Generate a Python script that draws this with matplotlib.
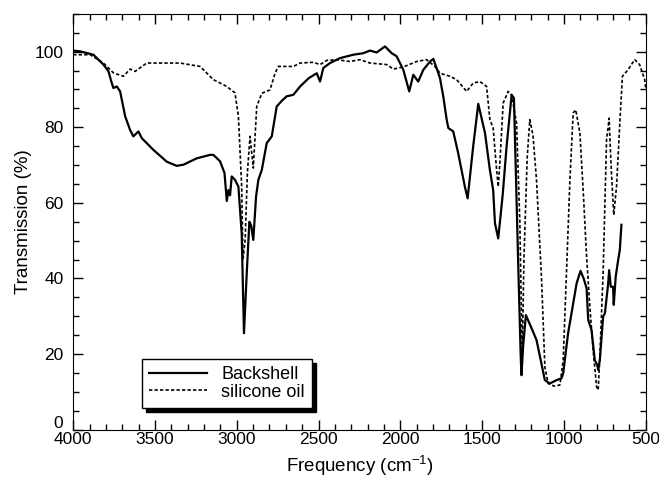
import matplotlib.pyplot as plt
from matplotlib.ticker import MultipleLocator, FuncFormatter

plt.rcParams['font.family'] = ['Liberation Sans', 'DejaVu Sans']

# FTIR transmission spectra, wavenumber (cm-1) vs transmission (%)
backshell_x = [4000, 3957, 3876, 3815, 3784, 3764, 3754, 3733, 3713, 3682,
               3652, 3632, 3601, 3580, 3509, 3428, 3367, 3326, 3244, 3163,
               3143, 3102, 3075, 3061, 3051, 3041, 3031, 3011, 2990, 2970,
               2956, 2939, 2923, 2912, 2899, 2882, 2868, 2847, 2817, 2786,
               2756, 2725, 2695, 2654, 2613, 2560, 2511, 2491, 2471, 2430,
               2369, 2288, 2227, 2186, 2145, 2094, 2053, 2023, 1982, 1946,
               1921, 1891, 1860, 1819, 1799, 1779, 1758, 1738, 1717, 1707,
               1677, 1647, 1606, 1589, 1555, 1524, 1483, 1453, 1433, 1422,
               1402, 1375, 1351, 1320, 1306, 1280, 1265, 1260, 1250, 1233,
               1200, 1168, 1117, 1087, 1050, 1015, 1005, 975, 923, 899,
               880, 862, 852, 832, 812, 797, 791, 781, 761, 750,
               730, 724, 714, 700, 696, 684, 669, 659, 649]
backshell_y = [100.3, 100.1, 99.2, 96.6, 94.8, 91.7, 90.4, 90.8, 89.5, 82.9,
               79.3, 77.6, 78.9, 77.1, 74.0, 70.9, 69.8, 70.1, 71.8, 72.7,
               72.7, 71.0, 67.9, 60.5, 63.4, 62.0, 67.0, 66.1, 64.3, 52.0,
               25.5, 41.4, 55.0, 54.0, 50.2, 61.7, 66.1, 68.7, 75.8, 77.6,
               85.5, 87.0, 88.2, 88.6, 90.8, 93.0, 94.3, 92.1, 95.7, 97.0,
               98.3, 99.2, 99.6, 100.3, 99.8, 101.4, 99.6, 98.8, 95.2, 89.5,
               93.9, 92.1, 95.2, 97.4, 98.1, 95.7, 93.0, 88.2, 82.0, 79.8,
               78.9, 73.2, 64.3, 61.2, 75.0, 86.2, 78.5, 68.7, 63.4, 54.6,
               50.6, 62.0, 74.9, 88.6, 87.7, 44.0, 20.0, 14.4, 22.0, 30.3,
               27.0, 23.7, 13.1, 12.2, 13.0, 13.6, 14.9, 25.5, 38.7, 42.0,
               40.0, 37.4, 29.0, 26.4, 18.4, 17.1, 15.8, 18.4, 29.9, 30.8,
               38.7, 42.2, 37.8, 37.8, 33.0, 40.5, 44.9, 47.5, 54.2]

silicone_x = [4000, 3896, 3815, 3754, 3693, 3652, 3621, 3550, 3346, 3224,
              3143, 3061, 3011, 2990, 2970, 2962, 2949, 2935, 2919, 2899,
              2878, 2847, 2797, 2766, 2746, 2654, 2613, 2532, 2491, 2450,
              2389, 2308, 2247, 2186, 2084, 2043, 1980, 1901, 1840, 1789,
              1758, 1697, 1656, 1595, 1555, 1514, 1473, 1453, 1433, 1412,
              1402, 1390, 1372, 1341, 1320, 1290, 1270, 1260, 1255, 1245,
              1225, 1209, 1190, 1168, 1137, 1117, 1097, 1060, 1025, 1005,
              985, 964, 944, 928, 903, 883, 862, 842, 822, 801,
              791, 781, 761, 740, 724, 720, 710, 696, 679, 659,
              643, 609, 568, 538, 507, 500]
silicone_y = [99.2, 99.2, 97.0, 94.4, 93.5, 95.4, 94.8, 97.0, 97.0, 96.1,
              92.6, 90.8, 89.1, 82.9, 64.3, 45.0, 50.0, 68.0, 77.6, 69.2,
              85.5, 89.0, 89.9, 94.3, 96.1, 96.1, 97.0, 97.2, 96.6, 97.7,
              97.9, 97.4, 97.9, 97.0, 96.6, 95.4, 96.0, 97.4, 97.9, 96.1,
              94.3, 93.5, 92.6, 89.5, 91.7, 92.1, 90.8, 82.0, 79.8, 68.7,
              64.3, 72.0, 86.4, 89.5, 88.5, 81.0, 55.0, 30.0, 20.0, 45.0,
              72.0, 82.0, 78.0, 66.0, 39.6, 16.6, 12.2, 11.5, 11.8, 18.4,
              41.4, 66.0, 83.8, 84.6, 78.5, 63.4, 45.8, 32.5, 21.0, 11.3,
              10.5, 19.3, 41.4, 76.7, 82.4, 77.6, 67.9, 56.8, 64.3, 81.1,
              93.5, 95.2, 97.9, 96.6, 92.6, 90.0]

fig = plt.figure(figsize=(6.59, 4.8), dpi=100)
ax = fig.add_axes([0.111, 0.105, 0.869, 0.866])

ax.plot(backshell_x, backshell_y, color='black', lw=1.6, label='Backshell')
ax.plot(silicone_x, silicone_y, color='black', lw=1.2,
        linestyle=(0, (2, 1.3)), label='silicone oil')

ax.set_xlim(4000, 500)
ax.set_ylim(0, 110)
ax.xaxis.set_major_locator(MultipleLocator(500))
ax.xaxis.set_minor_locator(MultipleLocator(100))
ax.yaxis.set_major_locator(MultipleLocator(20))
ax.yaxis.set_minor_locator(MultipleLocator(5))
# the "0" is written separately below so it clears "4000"
ax.yaxis.set_major_formatter(FuncFormatter(lambda v, pos: '' if v == 0 else f'{v:g}'))
ax.tick_params(which='both', direction='in', top=True, right=True,
               labelsize=12.5, width=1)
ax.tick_params(which='major', length=7)
ax.tick_params(which='minor', length=4)
ax.tick_params(axis='x', pad=2)
ax.tick_params(axis='y', pad=7)

ax.annotate('0', xy=(0, 0), xycoords=('axes fraction', 'data'),
            xytext=(-7, 4.5), textcoords='offset points',
            ha='right', va='center', fontsize=12.5)

ax.set_xlabel('Frequency (cm$^{\\mathregular{-1}}$)', fontsize=13.5,
              labelpad=4)
ax.set_ylabel('Transmission (%)', fontsize=13.5, labelpad=2)

ax.legend(loc='lower left', bbox_to_anchor=(0.12, 0.052), borderaxespad=0,
          fontsize=13, frameon=True, fancybox=False, edgecolor='black',
          framealpha=1, labelspacing=0.05, handlelength=3.2,
          shadow={'color': 'black', 'alpha': 1, 'ox': 3, 'oy': -3})

fig.savefig('out.png', dpi=100)
